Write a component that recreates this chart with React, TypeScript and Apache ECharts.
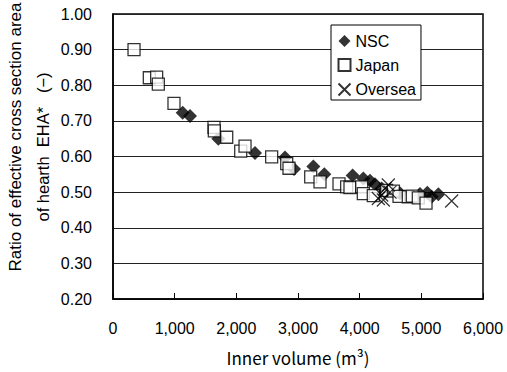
import React, { useEffect, useRef } from "react";
import * as echarts from "echarts";

const nscData: [number, number][] = [
  [1130, 0.723], [1249, 0.714], [1708, 0.65], [2303, 0.61], [2789, 0.597],
  [2935, 0.565], [3249, 0.572], [3427, 0.55], [3886, 0.547], [4059, 0.538],
  [4168, 0.532], [4249, 0.522], [4357, 0.51], [4654, 0.497], [4978, 0.495],
  [5097, 0.498], [5168, 0.487], [5276, 0.494],
];

const japanData: [number, number][] = [
  [341, 0.9], [589, 0.821], [708, 0.823], [735, 0.803], [989, 0.749],
  [1638, 0.682], [1643, 0.672], [1844, 0.654], [2071, 0.615], [2141, 0.629],
  [2573, 0.599], [2817, 0.58], [2854, 0.567], [3206, 0.543], [3357, 0.529],
  [3665, 0.523], [3789, 0.515], [3843, 0.513], [4032, 0.515], [4059, 0.496],
  [4221, 0.49], [4438, 0.505], [4546, 0.503], [4638, 0.488], [4789, 0.487],
  [4854, 0.489], [4951, 0.484], [5076, 0.469],
];

const overseaData: [number, number][] = [
  [4303, 0.482], [4357, 0.492], [4384, 0.478], [4411, 0.51], [4465, 0.52],
  [4492, 0.5], [5492, 0.475],
];

const seriesNames = ["NSC", "Japan", "Oversea"];
const xAxisTitle = "Inner volume (m³)";
const yAxisTitle1 = "Ratio of effective cross section area";
const yAxisTitle2 = "of hearth\u00A0\u00A0EHA*\u00A0\u00A0\u00A0(−)";

const FONT = "'Liberation Sans', Arial, sans-serif";

export default function App() {
  const ref = useRef<HTMLDivElement>(null);
  useEffect(() => {
    if (!ref.current) return;
    const chart = echarts.init(ref.current, null, { renderer: "svg" });
    chart.setOption({
      animation: false,
      backgroundColor: "#fff",
      textStyle: { fontFamily: FONT },
      grid: {
        left: 113, right: 24, top: 14, bottom: 73,
        show: true, borderColor: "#000", borderWidth: 1.5,
        backgroundColor: "transparent",
      },
      legend: {
        orient: "vertical",
        left: 331, top: 25,
        data: seriesNames,
        backgroundColor: "#fff",
        borderColor: "#000",
        borderWidth: 1,
        padding: [8, 5, 2, 5],
        itemGap: 8,
        itemWidth: 12,
        itemHeight: 12,
        textStyle: { fontFamily: FONT, fontSize: 16, color: "#000", lineHeight: 16 },
      },
      xAxis: {
        type: "value", min: 0, max: 6000, interval: 1000,
        axisLine: { show: true, lineStyle: { color: "#000", width: 1.5 } },
        axisTick: { show: true, inside: true, length: 6, lineStyle: { color: "#000" } },
        splitLine: { show: false },
        axisLabel: {
          margin: 21, fontSize: 16, color: "#000", fontFamily: FONT,
          formatter: (v: number) => v.toLocaleString("en-US"),
        },
      },
      yAxis: {
        type: "value", min: 0.2, max: 1.0, interval: 0.1,
        axisLine: { show: true, lineStyle: { color: "#000", width: 1.5 } },
        axisTick: { show: false },
        splitLine: { show: true, lineStyle: { color: "#222", width: 1 } },
        axisLabel: {
          margin: 21, fontSize: 16, color: "#000", fontFamily: FONT,
          padding: [6, 0, 0, 0],
          formatter: (v: number) => v.toFixed(2),
        },
      },
      graphic: [
        {
          type: "text", x: 15, y: 137, rotation: Math.PI / 2,
          style: { text: yAxisTitle1, fontSize: 17, fontFamily: FONT, fill: "#000", align: "center", verticalAlign: "middle" },
        },
        {
          type: "text", x: 43, y: 147, rotation: Math.PI / 2,
          style: { text: yAxisTitle2, fontSize: 16.5, fontFamily: FONT, fill: "#000", align: "center", verticalAlign: "middle" },
        },
        {
          type: "text", x: 298, y: 357,
          style: { text: xAxisTitle, fontSize: 17, fontFamily: "'Noto Sans CJK JP', 'DejaVu Sans', sans-serif", fill: "#000", align: "center", verticalAlign: "middle" },
        },
      ],
      series: [
        {
          name: seriesNames[0], type: "scatter", data: nscData,
          symbol: "diamond", symbolSize: 14,
          itemStyle: { color: "#000", borderColor: "#000", borderWidth: 0 },
          z: 3,
        },
        {
          name: seriesNames[1], type: "scatter", data: japanData,
          symbol: "rect", symbolSize: 12,
          itemStyle: { color: "#fff", borderColor: "#000", borderWidth: 1.3 },
          z: 4,
        },
        {
          name: seriesNames[2], type: "scatter", data: overseaData,
          symbol: "path://M0,0L10,10M10,0L0,10", symbolSize: 13,
          itemStyle: { color: "none", borderColor: "#000", borderWidth: 1.2 },
          z: 5,
        },
      ],
    });
    return () => chart.dispose();
  }, []);
  return <div ref={ref} style={{ position: "absolute", left: 0, top: 0, width: 507, height: 372 }} />;
}
